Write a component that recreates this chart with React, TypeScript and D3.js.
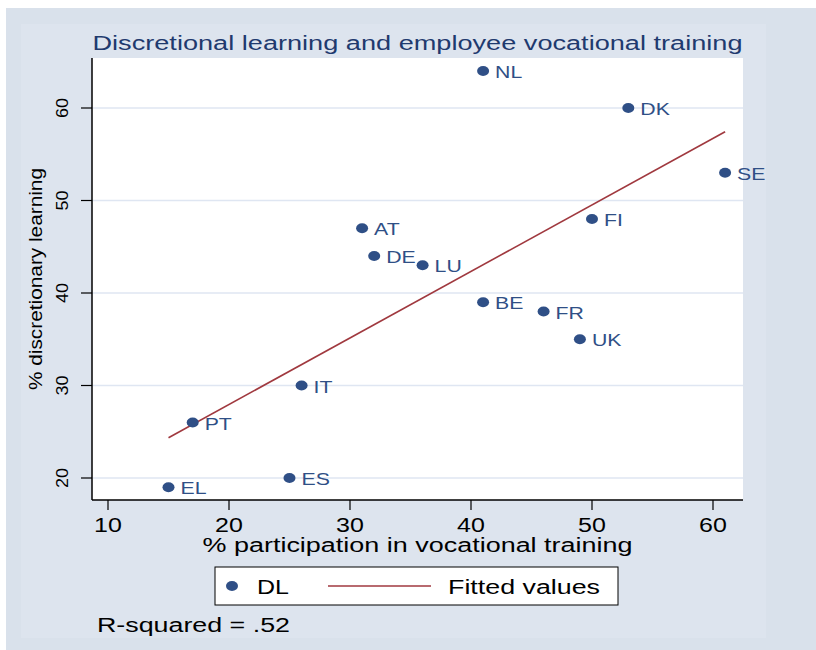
import React from "react";
import * as d3 from "d3";

const countries = ["NL", "DK", "SE", "FI", "AT", "DE", "LU", "BE", "FR", "UK", "IT", "PT", "ES", "EL"];
const participation = [41, 53, 61, 50, 31, 32, 36, 41, 46, 49, 26, 17, 25, 15];
const discretionary = [64, 60, 53, 48, 47, 44, 43, 39, 38, 35, 30, 26, 20, 19];
const fitX = [15, 61];
const fitY = [24.35, 57.44];
const xTicks = [10, 20, 30, 40, 50, 60];
const yTicks = [20, 30, 40, 50, 60];

const W = 816;
const H = 650;
const plot = { left: 92, right: 743, top: 58, bottom: 500 };
const navy = "#2f4f86";
const maroon = "#a0393f";
const font = "'Liberation Sans', Arial, sans-serif";

export default function App() {
  const x = d3.scaleLinear().domain([10, 60]).range([108, 713]);
  const y = d3.scaleLinear().domain([20, 60]).range([478, 108]);
  const line = d3
    .line<number>()
    .x((d) => x(d))
    .y((_, i) => y(fitY[i]));

  return (
    <svg
      width={W}
      height={H}
      style={{ position: "absolute", left: 0, top: 0, display: "block" }}
      fontFamily={font}
    >
      <rect x={0} y={0} width={W} height={H} fill="#ffffff" />
      <rect x={6} y={8} width={W - 6} height={H - 8} fill="#d9e1eb" />
      <rect x={21} y={24} width={745} height={614} fill="#dde4ee" />
      <rect
        x={plot.left}
        y={plot.top}
        width={plot.right - plot.left}
        height={plot.bottom - plot.top}
        fill="#ffffff"
      />
      {/* grid */}
      {yTicks.map((t) => (
        <line
          key={"g" + t}
          x1={plot.left}
          x2={plot.right}
          y1={y(t)}
          y2={y(t)}
          stroke="#dfe6f2"
          strokeWidth={1.5}
        />
      ))}
      {/* title */}
      <text
        x={(plot.left + plot.right) / 2}
        y={50}
        textAnchor="middle"
        fontSize={20}
        fill="#1f3a6e"
        textLength={650}
        lengthAdjust="spacingAndGlyphs"
      >
        Discretional learning and employee vocational training
      </text>
      {/* axes */}
      <line x1={plot.left} x2={plot.left} y1={plot.top} y2={plot.bottom} stroke="#000" strokeWidth={1.5} />
      <line x1={plot.left} x2={plot.right} y1={plot.bottom} y2={plot.bottom} stroke="#000" strokeWidth={1.5} />
      {yTicks.map((t) => (
        <g key={"y" + t}>
          <line x1={plot.left - 11} x2={plot.left} y1={y(t)} y2={y(t)} stroke="#000" strokeWidth={1.2} />
          <text
            transform={`translate(68,${y(t)}) rotate(-90)`}
            textAnchor="middle"
            fontSize={16}
            fill="#000"
            textLength={20}
            lengthAdjust="spacingAndGlyphs"
          >
            {t}
          </text>
        </g>
      ))}
      {xTicks.map((t) => (
        <g key={"x" + t}>
          <line x1={x(t)} x2={x(t)} y1={plot.bottom} y2={plot.bottom + 10} stroke="#000" strokeWidth={1.2} />
          <text
            transform={`translate(${x(t)},${plot.bottom + 32}) scale(1.25,1)`}
            textAnchor="middle"
            fontSize={20}
            fill="#000"
          >
            {t}
          </text>
        </g>
      ))}
      <text
        x={(plot.left + plot.right) / 2}
        y={552}
        textAnchor="middle"
        fontSize={20}
        fill="#000"
        textLength={430}
        lengthAdjust="spacingAndGlyphs"
      >
        % participation in vocational training
      </text>
      <text
        transform={`translate(42,${(plot.top + plot.bottom) / 2}) rotate(-90)`}
        textAnchor="middle"
        fontSize={19}
        fill="#000"
        textLength={222}
        lengthAdjust="spacingAndGlyphs"
      >
        % discretionary learning
      </text>
      {/* fitted line */}
      <path d={line(fitX) || ""} fill="none" stroke={maroon} strokeWidth={1.6} />
      {/* points */}
      {countries.map((c, i) => (
        <g key={c}>
          <ellipse cx={x(participation[i])} cy={y(discretionary[i])} rx={6} ry={5} fill={navy} />
          <text
            transform={`translate(${x(participation[i]) + 12},${y(discretionary[i]) + 7}) scale(1.25,1)`}
            fontSize={17}
            fill={navy}
          >
            {c}
          </text>
        </g>
      ))}
      {/* legend */}
      <rect x={215} y={567} width={403} height={38} fill="#ffffff" stroke="#000" strokeWidth={1} />
      <ellipse cx={232} cy={586} rx={6} ry={5} fill={navy} />
      <text transform="translate(257,594) scale(1.25,1)" fontSize={20} fill="#000">
        DL
      </text>
      <line x1={328} x2={431} y1={586} y2={586} stroke={maroon} strokeWidth={1.6} />
      <text x={448} y={594} fontSize={20} fill="#000" textLength={152} lengthAdjust="spacingAndGlyphs">
        Fitted values
      </text>
      <text x={97} y={632} fontSize={20} fill="#000" textLength={193} lengthAdjust="spacingAndGlyphs">
        R-squared = .52
      </text>
    </svg>
  );
}
